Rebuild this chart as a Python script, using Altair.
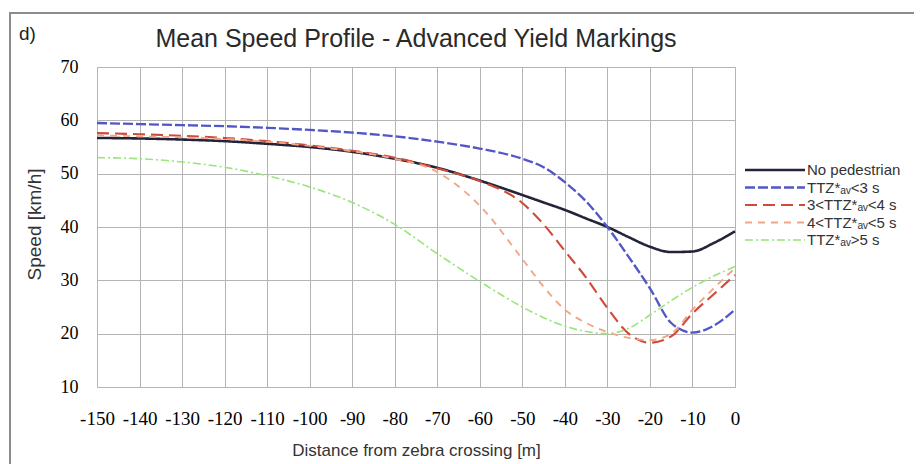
import altair as alt
import pandas as pd

# ---- data ----
distance = [-150, -140, -130, -120, -110, -100, -90, -80, -70, -60, -50, -45,
            -40, -35, -30, -25, -20, -15, -10, -5, 0]

series_names = ["No pedestrian", "TTZ*ₐᵥ<3 s", "3<TTZ*ₐᵥ<4 s", "4<TTZ*ₐᵥ<5 s", "TTZ*ₐᵥ>5 s"]

no_pedestrian = [56.7, 56.6, 56.4, 56.1, 55.6, 55.0, 54.1, 52.8, 51.1, 48.7, 46.0, 44.6,
                 43.2, 41.6, 40.0, 38.1, 36.3, 35.3, 35.4, 37.0, 39.2]
ttz_lt3 = [59.5, 59.3, 59.1, 58.9, 58.6, 58.2, 57.7, 57.0, 56.0, 54.7, 52.8, 51.2,
           48.4, 44.8, 40.0, 34.4, 28.5, 22.0, 20.2, 21.5, 24.5]
ttz_3_4 = [57.6, 57.4, 57.1, 56.7, 56.1, 55.3, 54.3, 53.0, 51.0, 48.6, 44.5, 40.5,
           35.5, 30.5, 24.8, 20.0, 18.3, 19.5, 23.8, 27.4, 31.0]
ttz_4_5 = [57.2, 57.0, 56.8, 56.5, 56.0, 55.2, 54.2, 52.8, 50.3, 44.0, 34.0, 28.8,
           24.5, 22.0, 20.3, 19.2, 18.8, 20.0, 24.5, 28.5, 32.3]
ttz_gt5 = [53.0, 52.8, 52.2, 51.2, 49.6, 47.5, 44.6, 40.5, 35.0, 29.8, 25.0, 23.0,
           21.4, 20.4, 20.0, 21.0, 23.5, 26.2, 28.7, 30.8, 32.6]

x_ticks = list(range(-150, 1, 10))
y_ticks = list(range(10, 71, 10))

# ---- styles ----
colors = ["#23233a", "#5257c8", "#d04a3a", "#f2a585", "#98e57a"]
dashes = [[1, 0], [10, 3], [12, 6], [7, 6], [8, 3, 2, 3]]
widths = [2.6, 1.6, 2.0, 2.0, 2.0]

values = [no_pedestrian, ttz_lt3, ttz_3_4, ttz_4_5, ttz_gt5]
rows = []
for order, (name, vals) in enumerate(zip(series_names, values)):
    for d, v in zip(distance, vals):
        rows.append({"series": name, "distance": d, "speed": v, "order": order})
df = pd.DataFrame(rows)
legend_df = pd.DataFrame({"series": series_names, "order": list(range(len(series_names)))})

color_enc = alt.Color("series:N", scale=alt.Scale(domain=series_names, range=colors), legend=None)
dash_enc = alt.StrokeDash("series:N", scale=alt.Scale(domain=series_names, range=dashes), legend=None)
width_enc = alt.StrokeWidth("series:N", scale=alt.Scale(domain=series_names, range=widths), legend=None)

lines = alt.Chart(df).mark_line(interpolate="monotone").encode(
    x=alt.X("distance:Q",
            scale=alt.Scale(domain=[-150, 0], nice=False, zero=False),
            axis=alt.Axis(values=x_ticks, title="Distance from zebra crossing [m]",
                          labelExpr="'' + datum.value", labelFlush=False,
                          labelOverlap=False, labelFont="Liberation Serif",
                          labelFontSize=19, labelPadding=22, ticks=False, domain=False,
                          titleFont="Liberation Sans", titleFontSize=17,
                          titleFontWeight="normal", titleColor="#333333",
                          titleBaseline="alphabetic", titleY=68,
                          gridColor="#b4b4b4", gridWidth=1)),
    y=alt.Y("speed:Q",
            scale=alt.Scale(domain=[10, 70], nice=False, zero=False),
            axis=alt.Axis(values=y_ticks, title="Speed [km/h]", labelFlush=False,
                          labelOverlap=False, labelFont="Liberation Serif",
                          labelFontSize=18, labelPadding=19, ticks=False, domain=False,
                          titleFont="Liberation Sans", titleFontSize=19,
                          titleFontWeight="normal", titleColor="#333333",
                          titleAngle=270, titleX=-63, titleY=157,
                          titleAlign="center", titleBaseline="middle",
                          gridColor="#b4b4b4", gridWidth=1)),
    color=color_enc,
    strokeDash=dash_enc,
    strokeWidth=width_enc,
    order=alt.Order("order:Q"),
)

# legend drawn as its own small layer (rows on a point scale)
legend_y = alt.Y("series:N", sort=series_names,
                 scale=alt.Scale(type="point", domain=series_names, range=[103, 173],
                                 padding=0),
                 axis=None)
legend_lines = alt.Chart(legend_df).mark_rule().encode(
    x=alt.value(648), x2=alt.value(708), y=legend_y,
    color=color_enc, strokeDash=dash_enc, strokeWidth=width_enc)
legend_text = alt.Chart(legend_df).mark_text(
    align="left", baseline="middle", font="Liberation Sans", fontSize=15,
    color="#333333").encode(x=alt.value(710), y=legend_y, text="series:N")

one = pd.DataFrame({"a": [0]})
frame = alt.Chart(one).mark_rect(fillOpacity=0, stroke="#8c8c8c", strokeWidth=2).encode(
    x=alt.value(-87), x2=alt.value(830), y=alt.value(-54), y2=alt.value(410))
panel_label = alt.Chart(one).mark_text(
    text="d)", align="left", baseline="alphabetic", fontSize=19,
    font="Liberation Sans", color="#222222").encode(x=alt.value(-78), y=alt.value(-27))
title = alt.Chart(one).mark_text(
    text="Mean Speed Profile - Advanced Yield Markings", align="center",
    baseline="alphabetic", fontSize=25, font="Liberation Sans",
    color="#2a2a2a").encode(x=alt.value(319), y=alt.value(-20))

chart = alt.layer(frame, panel_label, title, lines,
                  legend_lines, legend_text).resolve_scale(y="independent").properties(
    width=638, height=320,
    autosize=alt.AutoSizeParams(type="none"),
    padding={"left": 89, "top": 59, "right": 179, "bottom": 77},
).configure_view(stroke="#9a9a9a", strokeWidth=1).configure(background="white")

chart.save("out.html", embed_options={"renderer": "svg", "actions": False})
